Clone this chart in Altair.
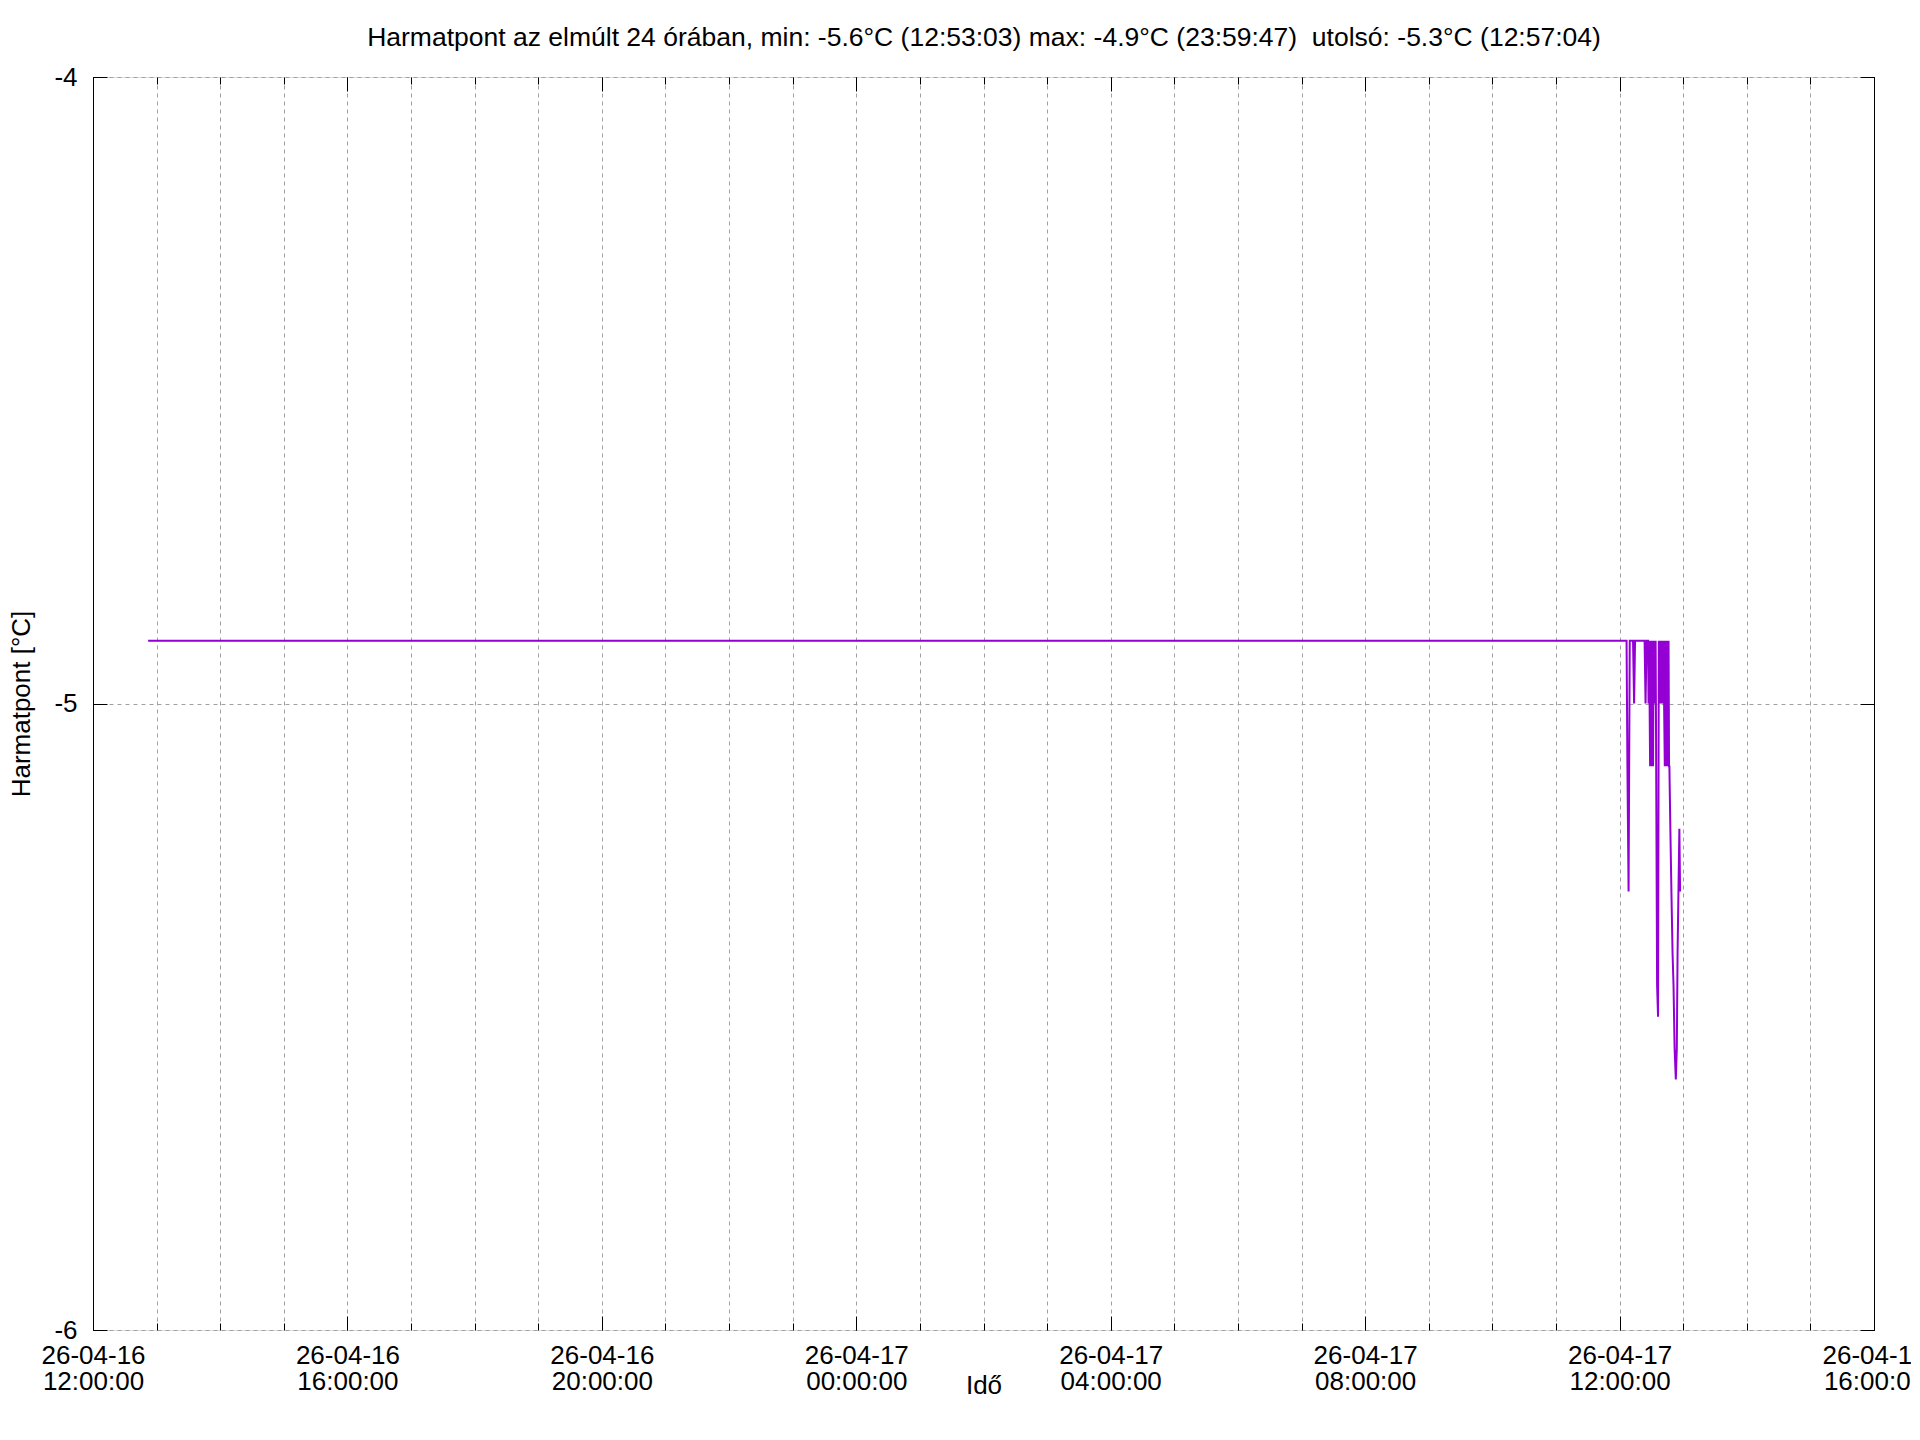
import altair as alt
import pandas as pd

# ---- data ----
times = [
    "2026-04-16T12:52:00", "2026-04-16T23:59:47", "2026-04-17T12:06:36",
    "2026-04-17T12:07:24", "2026-04-17T12:08:30", "2026-04-17T12:09:36",
    "2026-04-17T12:12:42", "2026-04-17T12:13:42", "2026-04-17T12:14:36",
    "2026-04-17T12:23:36", "2026-04-17T12:24:30", "2026-04-17T12:25:30",
    "2026-04-17T12:26:54", "2026-04-17T12:27:20", "2026-04-17T12:27:50",
    "2026-04-17T12:28:20", "2026-04-17T12:28:48", "2026-04-17T12:29:15",
    "2026-04-17T12:29:42", "2026-04-17T12:30:10", "2026-04-17T12:30:42",
    "2026-04-17T12:31:10", "2026-04-17T12:31:36", "2026-04-17T12:32:05",
    "2026-04-17T12:32:30", "2026-04-17T12:33:00", "2026-04-17T12:33:30",
    "2026-04-17T12:34:00", "2026-04-17T12:34:24", "2026-04-17T12:35:24",
    "2026-04-17T12:36:18", "2026-04-17T12:37:00", "2026-04-17T12:37:30",
    "2026-04-17T12:38:00", "2026-04-17T12:38:42", "2026-04-17T12:39:10",
    "2026-04-17T12:39:36", "2026-04-17T12:40:10", "2026-04-17T12:41:00",
    "2026-04-17T12:41:30", "2026-04-17T12:42:00", "2026-04-17T12:42:40",
    "2026-04-17T12:43:10", "2026-04-17T12:43:40", "2026-04-17T12:44:18",
    "2026-04-17T12:44:50", "2026-04-17T12:45:18", "2026-04-17T12:45:50",
    "2026-04-17T12:46:12", "2026-04-17T12:46:40", "2026-04-17T12:47:00",
    "2026-04-17T12:47:54", "2026-04-17T12:48:54", "2026-04-17T12:50:00",
    "2026-04-17T12:50:54", "2026-04-17T12:51:54", "2026-04-17T12:53:03",
    "2026-04-17T12:54:00", "2026-04-17T12:54:42", "2026-04-17T12:56:24",
    "2026-04-17T12:57:04",
]
values = [
    -4.9, -4.9, -4.9,
    -5.1, -5.3, -4.9,
    -4.9, -5.0, -4.9,
    -4.9, -5.0, -4.9,
    -4.9, -5.0, -4.9,
    -5.0, -5.1, -4.9,
    -5.1, -4.9, -5.1,
    -4.9, -5.1, -4.9,
    -5.0, -4.9, -5.0,
    -4.9, -5.05, -5.45,
    -5.5, -4.9, -5.0,
    -4.9, -5.0, -4.9,
    -5.0, -4.9, -5.0,
    -4.9, -5.0, -5.1,
    -4.9, -5.1, -4.9,
    -5.1, -4.9, -5.1,
    -4.9, -5.1, -5.1,
    -5.2, -5.3, -5.4,
    -5.45, -5.55, -5.6,
    -5.55, -5.4, -5.2,
    -5.3,
]
y_ticks = [-6, -5, -4]
title_text = ("Harmatpont az elmúlt 24 órában, min: -5.6°C (12:53:03) "
              "max: -4.9°C (23:59:47)\u00a0 utolsó: -5.3°C (12:57:04)")
x_title = "Idő"
y_title = "Harmatpont [°C]"

df = pd.DataFrame({"t": times, "v": values})

# ---- axis positions ----
def dt(day, hour):
    return alt.DateTime(year=2026, month=4, date=day, hours=hour)

hour_slots = [(16, h) for h in range(12, 24)] + [(17, h) for h in range(0, 17)]
all_hours = [dt(d, h) for d, h in hour_slots]
major_hours = [dt(d, h) for d, h in hour_slots if h % 4 == 0]
inner_hours = all_hours[1:-1]

xs = alt.Scale(domain=[dt(16, 12), dt(17, 16)])
ys = alt.Scale(domain=[-6, -4], nice=False, zero=False)

W, H = 1781, 1253
FONT = "Liberation Sans"
FS = 26
GRID = dict(grid=True, gridColor="#a0a0a0", gridDash=[4, 4], gridWidth=1)


def tick_axis(orient, vals, size, n):
    return alt.Axis(orient=orient, values=vals, tickCount=n, offset=-size,
                    tickSize=size, ticks=True, tickColor="black", tickWidth=1,
                    labels=False, domain=False, grid=False, title="")


x_main = alt.Axis(
    orient="bottom", values=major_hours, tickCount=8,
    labelExpr="[timeFormat(datum.value, '%y-%m-%d'), timeFormat(datum.value, '%H:%M:%S')]",
    labelFontSize=FS, labelFont=FONT, labelColor="black", labelPadding=12,
    labelLineHeight=26, labelFlush=False, labelOverlap=False, labelBaseline="top",
    ticks=False, tickSize=0, domain=False, grid=False,
    title=x_title, titleFontSize=FS, titleFont=FONT, titleFontWeight="normal",
    titleColor="black", titleX=W / 2, titleY=63, titleBaseline="alphabetic",
    titleAlign="center",
)
# hourly grid; this axis also carries the chart heading, placed above the plot
x_grid = alt.Axis(
    orient="bottom", values=inner_hours, tickCount=30, ticks=False, tickSize=0,
    labels=False, domain=False,
    title=title_text, titleFontSize=26.5, titleFont=FONT, titleFontWeight="normal",
    titleColor="black", titleX=W / 2, titleY=-(H + 32), titleBaseline="alphabetic",
    titleAlign="center",
    **GRID,
)

y_grid = alt.Axis(orient="left", values=y_ticks, tickCount=3, ticks=False,
                  tickSize=0, labels=False, domain=False, title="", **GRID)
y_main = alt.Axis(
    orient="left", values=y_ticks, tickCount=3,
    labelExpr="'' + datum.value", labelOverlap=False, labelFlush=False,
    labelFontSize=FS, labelFont=FONT, labelColor="black", labelPadding=16,
    ticks=False, tickSize=0, domain=True, domainColor="black", domainWidth=1,
    grid=False,
    title=y_title, titleFontSize=FS, titleFont=FONT, titleFontWeight="normal",
    titleColor="black", titleX=-64, titleY=H / 2, titleBaseline="alphabetic",
    titleAlign="center", titleAngle=270,
)
y_right_dom = alt.Axis(orient="right", values=y_ticks, tickCount=3, ticks=False,
                       tickSize=0, labels=False, domain=True, domainColor="black",
                       domainWidth=1, grid=False, title="")


def layer(xaxis, yaxis, visible=False):
    mark = alt.Chart(df).mark_line(
        color="#9400D3", strokeWidth=2, opacity=1 if visible else 0,
        interpolate="linear",
    )
    return mark.encode(
        x=alt.X("t:T", scale=xs, axis=xaxis),
        y=alt.Y("v:Q", scale=ys, axis=yaxis),
    )


layers = [
    layer(x_grid, y_grid),
    layer(tick_axis("bottom", major_hours, 14, 8), tick_axis("left", y_ticks, 14, 3)),
    layer(tick_axis("bottom", all_hours, 7, 30), y_right_dom),
    layer(tick_axis("top", major_hours, 14, 8), tick_axis("right", y_ticks, 14, 3)),
    layer(tick_axis("top", all_hours, 7, 30), y_main),
    layer(x_main, None, visible=True),
]

chart = (
    alt.layer(*layers)
    .resolve_scale(x="shared", y="shared")
    .resolve_axis(x="independent", y="independent")
    .properties(
        width=W, height=H,
        padding={"left": 85, "top": 69, "right": 37, "bottom": 90},
        autosize=alt.AutoSizeParams(type="none"),
        background="white",
    )
    .configure_view(strokeWidth=0)
    .configure(font=FONT)
)

chart.save("out.html", embed_options={"renderer": "svg", "actions": False})
